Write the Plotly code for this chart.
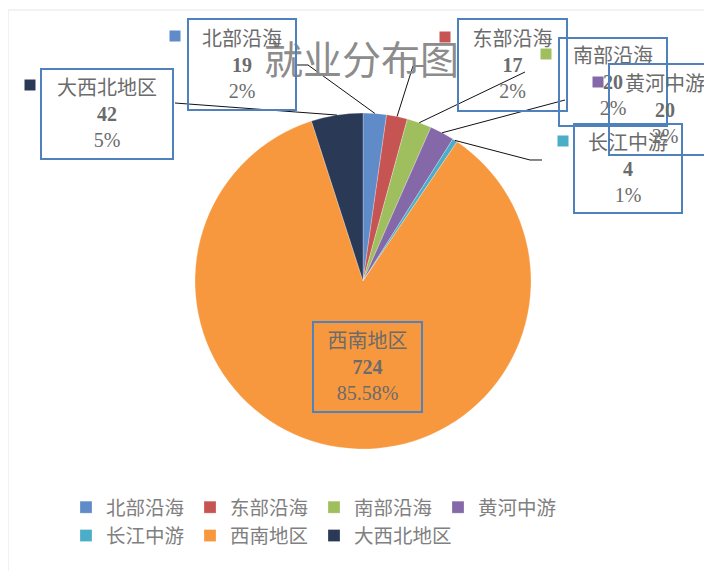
import math
import plotly.graph_objects as go

# ---------------- data ----------------
categories = ["北部沿海", "东部沿海", "南部沿海", "黄河中游", "长江中游", "西南地区", "大西北地区"]
values = [19, 17, 20, 20, 4, 724, 42]
pct_labels = ["2%", "2%", "2%", "2%", "1%", "85.58%", "5%"]
colors = ["#5F8BC8", "#C65452", "#9FBF5E", "#8468A8", "#4BADC8", "#F7983F", "#2A3A56"]
title_text = "就业分布图"

# ---------------- layout helpers (screen pixels) ----------------
OFF = 8                     # page body margin
W, H = 712 - OFF, 571 - OFF  # figure size so that the page fits the window
MR = 150                    # right margin -> legend wraps after 4 items
PW, PH = W - MR, H          # plot-area size in pixels
CX, CY, R = 363, 281, 168


def px(x):
    return (x - OFF) / PW


def py(y):
    return 1 - (y - OFF) / PH


# label boxes (screen pixels: x0, y0, x1, y1)
boxes = {
    "北部沿海": (187, 18, 297, 111),
    "东部沿海": (457, 18, 568, 112),
    "南部沿海": (558, 37, 668, 127),
    "黄河中游": (608, 63, 722, 156),
    "长江中游": (573, 123, 683, 214),
    "西南地区": (312, 321, 423, 413),
    "大西北地区": (40, 68, 174, 160),
}
# key squares (pixel centres)
keys = {
    "北部沿海": (175, 36),
    "东部沿海": (445, 37),
    "南部沿海": (546, 54),
    "黄河中游": (598, 82),
    "长江中游": (563, 141),
    "西南地区": (303, 338),
    "大西北地区": (30, 85),
}
# leader line vertices after the slice edge point (pixels)
leaders = {
    "北部沿海": [(308, 65), (297, 65)],
    "东部沿海": [(413, 66), (424, 66)],
    "南部沿海": [(525, 72)],
    "黄河中游": [(565, 100)],
    "长江中游": [(530, 160), (542, 160)],
    "大西北地区": [(175, 103)],
}

fig = go.Figure(
    go.Pie(
        labels=categories,
        values=values,
        sort=False,
        direction="clockwise",
        rotation=0,
        textinfo="none",
        marker=dict(colors=colors, line=dict(color="rgba(255,255,255,0.5)", width=0.5)),
        domain=dict(x=[px(CX - R), px(CX + R)], y=[py(CY + R), py(CY - R)]),
        hoverinfo="label+value+percent",
    )
)

shapes = []
annotations = []

# frame
shapes.append(dict(type="rect", xref="paper", yref="paper",
                   x0=px(8), y0=py(600), x1=px(760), y1=py(10),
                   line=dict(color="#E6E6E6", width=1), layer="below"))

# leader lines from slice mid-angle edge points
total = sum(values)
cum = 0
for name, v in zip(categories, values):
    mid = (cum + v / 2) / total * 2 * math.pi
    cum += v
    if name not in leaders:
        continue
    ex = CX + R * math.sin(mid)
    ey = CY - R * math.cos(mid)
    pts = [(ex, ey)] + leaders[name]
    path = "M " + " L ".join(f"{px(x):.5f},{py(y):.5f}" for x, y in pts)
    shapes.append(dict(type="path", xref="paper", yref="paper", path=path,
                       line=dict(color="#111111", width=1)))

# title (boxes are transparent)
annotations.append(dict(text=title_text, xref="paper", yref="paper",
                        x=px(361.5), y=py(57), xanchor="center", yanchor="middle",
                        showarrow=False,
                        font=dict(family="Noto Sans CJK SC", size=39, color="#8C8C8C")))

# data labels
for name, v, pct, col in zip(categories, values, pct_labels, colors):
    x0, y0, x1, y1 = boxes[name]
    annotations.append(dict(
        text=f"{name}<br><b>{v}</b><br>{pct}",
        xref="paper", yref="paper",
        x=px((x0 + x1) / 2), y=py((y0 + y1) / 2),
        xanchor="center", yanchor="middle",
        width=(x1 - x0) - 4, height=(y1 - y0) - 4,
        align="center", valign="middle",
        showarrow=False, bgcolor="rgba(0,0,0,0)",
        bordercolor="#4F81BD", borderwidth=2, borderpad=0,
        font=dict(family="Liberation Serif, Noto Sans CJK SC", size=20, color="#6B6B6B"),
    ))
    kx, ky = keys[name]
    shapes.append(dict(type="rect", xref="paper", yref="paper",
                       x0=px(kx - 5.5), x1=px(kx + 5.5), y0=py(ky + 5.5), y1=py(ky - 5.5),
                       fillcolor=col, line=dict(width=0)))

fig.update_layout(
    width=W, height=H,
    margin=dict(l=0, r=MR, t=0, b=0),
    paper_bgcolor="white",
    plot_bgcolor="white",
    shapes=shapes,
    annotations=annotations,
    showlegend=True,
    legend=dict(
        orientation="h",
        x=px(66), y=py(488), xanchor="left", yanchor="top",
        entrywidth=79, entrywidthmode="pixels",
        font=dict(family="Noto Sans CJK SC", size=19.5, color="#808080"),
        bgcolor="rgba(0,0,0,0)",
    ),
)

fig.write_html("out.html")
